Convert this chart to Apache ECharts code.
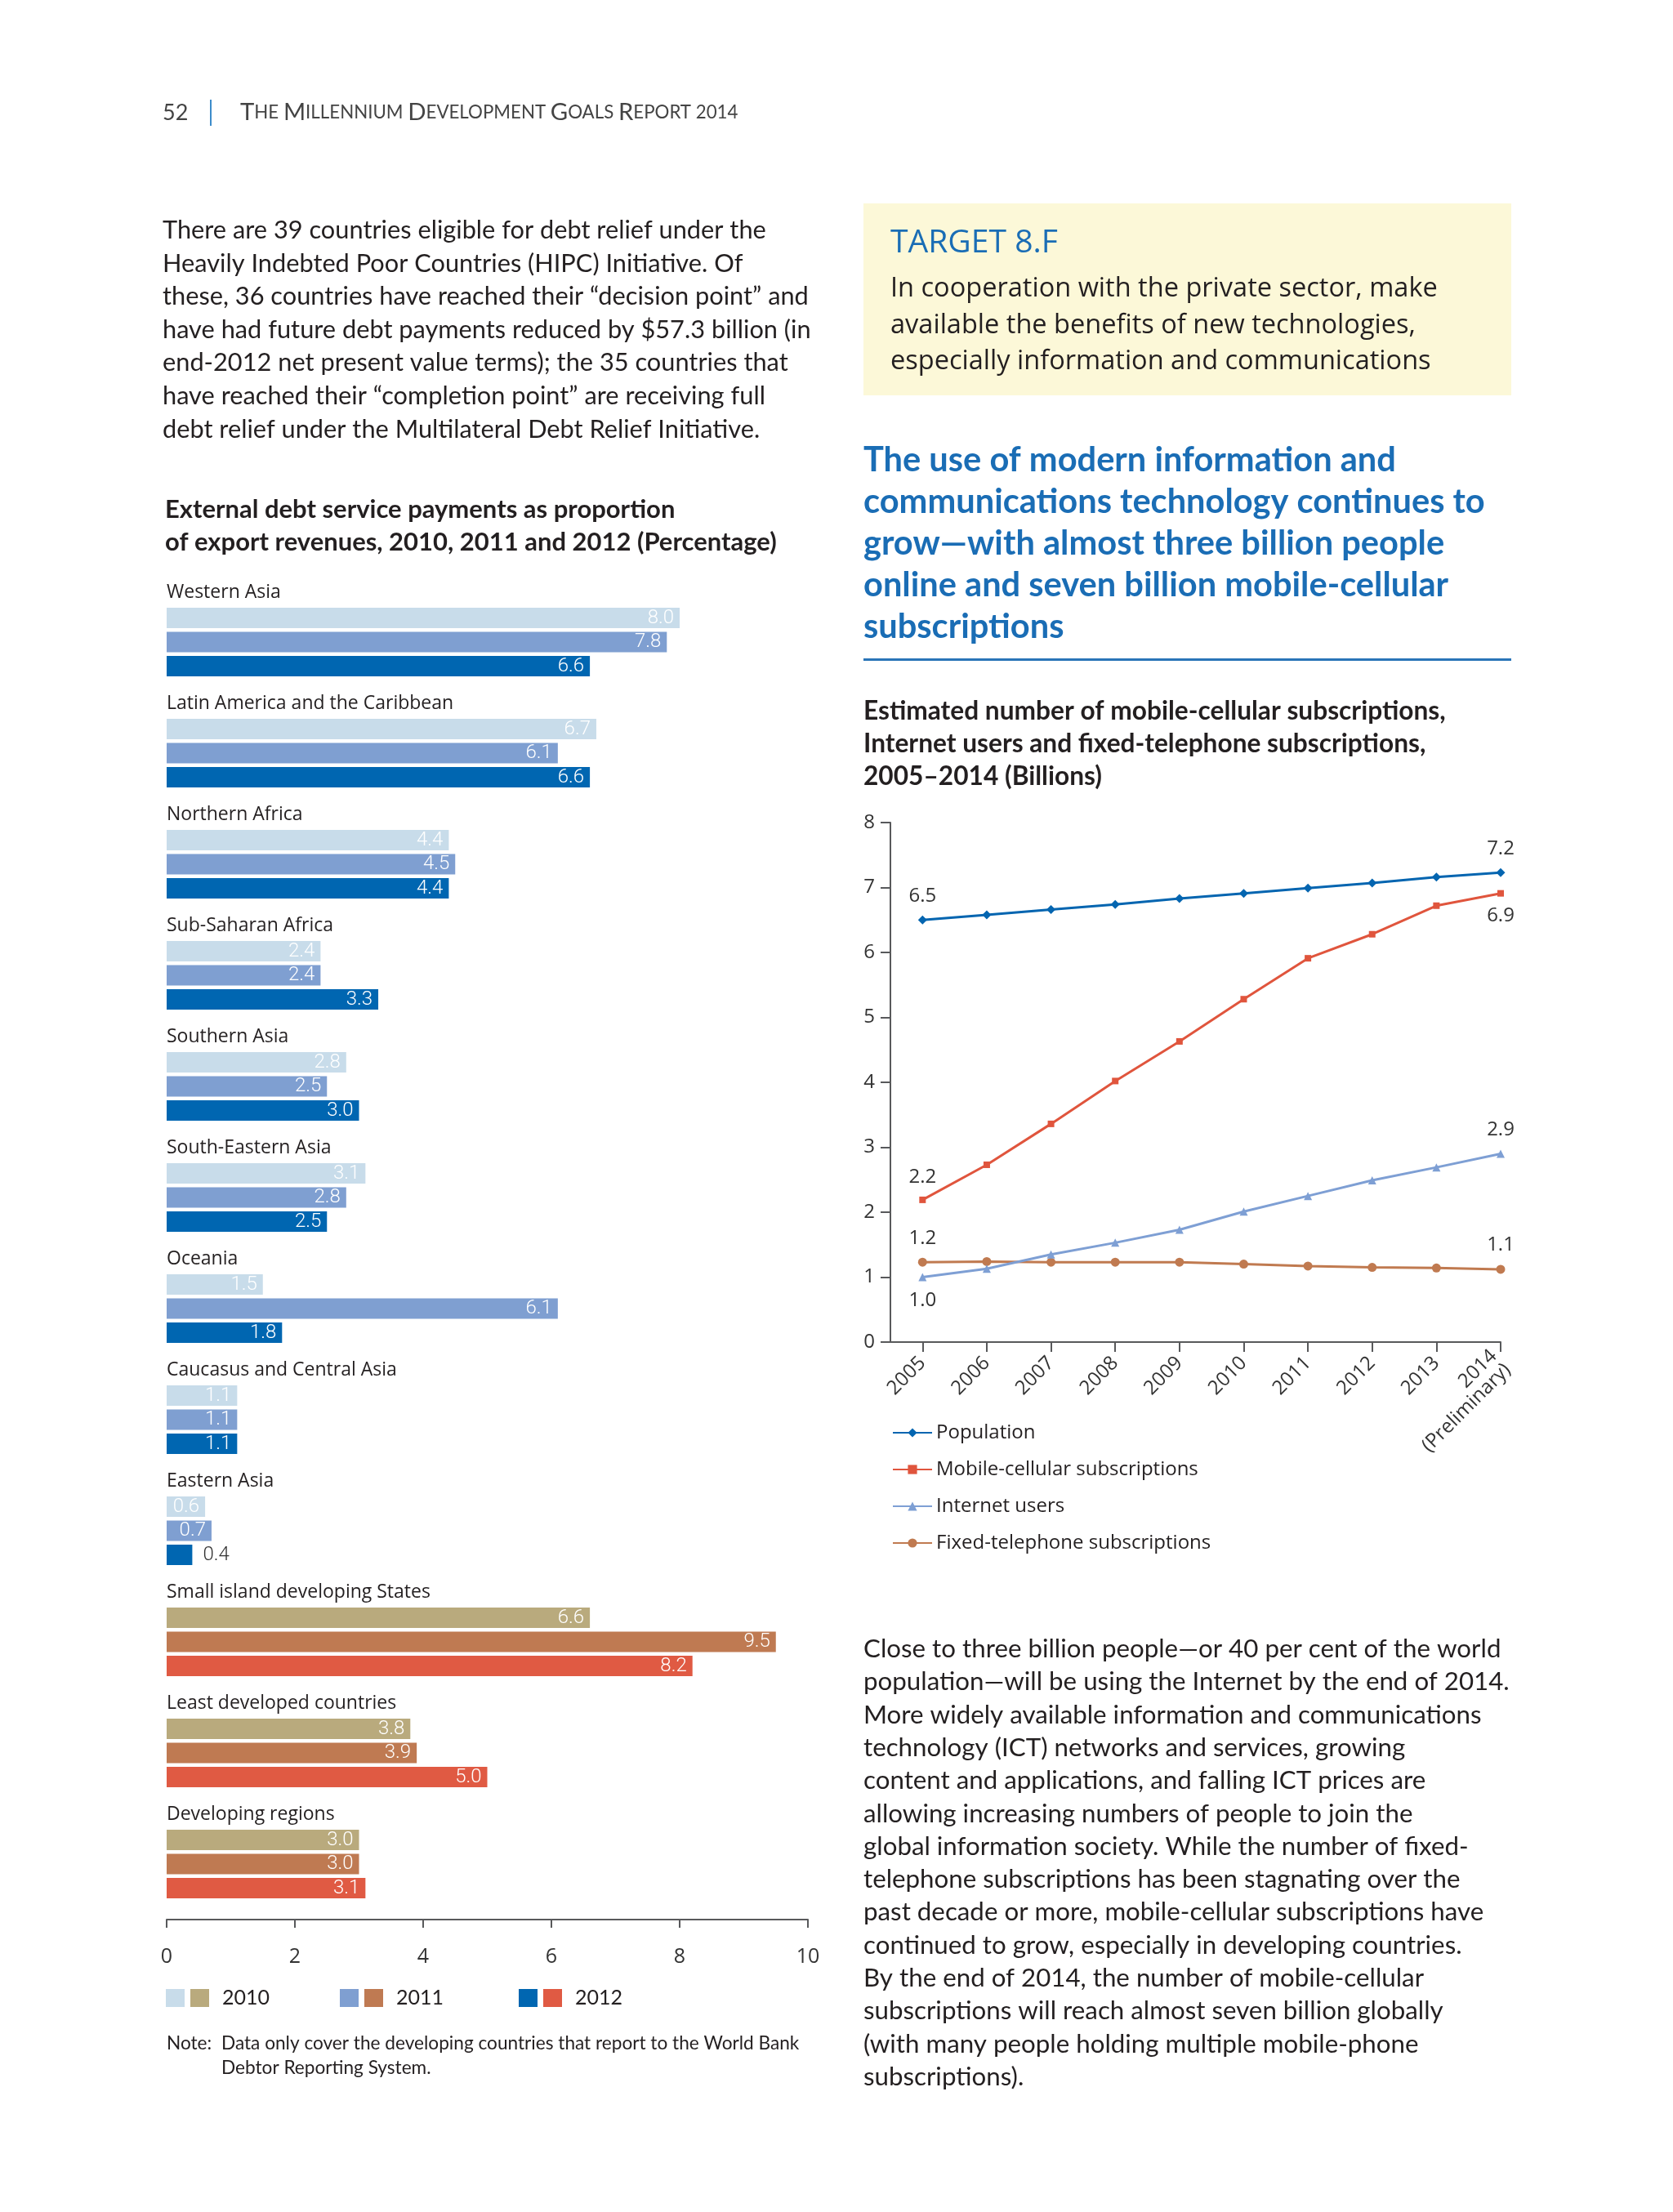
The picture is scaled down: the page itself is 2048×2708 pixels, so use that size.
<!DOCTYPE html>
<html><head><meta charset="utf-8">
<script src="https://cdn.jsdelivr.net/npm/echarts@6/dist/echarts.min.js"></script>
<style>html,body{margin:0;padding:0;background:#fff}#c{width:2048px;height:2708px}</style>
</head><body><div id="c"></div>
<script>
// ---------- DATA ----------
const regions = ['Western Asia','Latin America and the Caribbean','Northern Africa','Sub-Saharan Africa','Southern Asia','South-Eastern Asia','Oceania','Caucasus and Central Asia','Eastern Asia','Small island developing States','Least developed countries','Developing regions'];
const debt2010 = [8.0, 6.7, 4.4, 2.4, 2.8, 3.1, 1.5, 1.1, 0.6, 6.6, 3.8, 3.0];
const debt2011 = [7.8, 6.1, 4.5, 2.4, 2.5, 2.8, 6.1, 1.1, 0.7, 9.5, 3.9, 3.0];
const debt2012 = [6.6, 6.6, 4.4, 3.3, 3.0, 2.5, 1.8, 1.1, 0.4, 8.2, 5.0, 3.1];
const debtYears = ['2010','2011','2012'];
const debtTicks = [0, 2, 4, 6, 8, 10];

const years = [2005, 2006, 2007, 2008, 2009, 2010, 2011, 2012, 2013, 2014];
const population = [6.50, 6.58, 6.66, 6.74, 6.83, 6.91, 6.99, 7.07, 7.16, 7.23];
const mobile     = [2.19, 2.73, 3.36, 4.02, 4.63, 5.28, 5.91, 6.28, 6.72, 6.91];
const internet   = [1.00, 1.13, 1.35, 1.53, 1.73, 2.01, 2.25, 2.49, 2.69, 2.90];
const fixedTel   = [1.23, 1.24, 1.23, 1.23, 1.23, 1.20, 1.17, 1.15, 1.14, 1.12];
const lineNames = ['Population','Mobile-cellular subscriptions','Internet users','Fixed-telephone subscriptions'];
const lineTicks = [0,1,2,3,4,5,6,7,8];

// ---------- TEXT ----------
const header = 'The Millennium Development Goals Report 2014';
const leftPara = [
 'There are 39 countries eligible for debt relief under the',
 'Heavily Indebted Poor Countries (HIPC) Initiative. Of',
 'these, 36 countries have reached their \u201cdecision point\u201d and',
 'have had future debt payments reduced by $57.3 billion (in',
 'end-2012 net present value terms); the 35 countries that',
 'have reached their \u201ccompletion point\u201d are receiving full',
 'debt relief under the Multilateral Debt Relief Initiative.'];
const barTitle = ['External debt service payments as proportion','of export revenues, 2010, 2011 and 2012 (Percentage)'];
const boxTitle = 'TARGET 8.F';
const boxLines = ['In cooperation with the private sector, make','available the benefits of new technologies,','especially information and communications'];
const headline = ['The use of modern information and','communications technology continues to','grow\u2014with almost three billion people','online and seven billion mobile-cellular','subscriptions'];
const lineTitle = ['Estimated number of mobile-cellular subscriptions,','Internet users and fixed-telephone subscriptions,','2005\u20132014 (Billions)'];
const rightPara = [
 'Close to three billion people\u2014or 40 per cent of the world',
 'population\u2014will be using the Internet by the end of 2014.',
 'More widely available information and communications',
 'technology (ICT) networks and services, growing',
 'content and applications, and falling ICT prices are',
 'allowing increasing numbers of people to join the',
 'global information society. While the number of fixed-',
 'telephone subscriptions has been stagnating over the',
 'past decade or more, mobile-cellular subscriptions have',
 'continued to grow, especially in developing countries.',
 'By the end of 2014, the number of mobile-cellular',
 'subscriptions will reach almost seven billion globally',
 '(with many people holding multiple mobile-phone',
 'subscriptions).'];
const noteLabel = 'Note:';
const noteLines = ['Data only cover the developing countries that report to the World Bank','Debtor Reporting System.'];

// ---------- STYLE / LAYOUT ----------
const INK = '#231f20';
const BLUE = '#1a6db5';
const blueCols = ['#c8dcea', '#7f9fd1', '#0066b1'];
const earthCols = ['#b9aa7d', '#bf7a52', '#e05a43'];
const earthFrom = 9;
const lineStyles = [
 {color:'#0465b0', symbol:'diamond', size:11, pos:['top','top'], z:4},
 {color:'#e0553d', symbol:'rect', size:8, pos:['top','bottom'], z:3},
 {color:'#7e9fd4', symbol:'triangle', size:10, pos:['bottom','top'], z:3},
 {color:'#c07a50', symbol:'circle', size:11, pos:['top','top'], z:2}
];

const mctx = document.createElement('canvas').getContext('2d');
function fit(text, weight, family, target) {
  mctx.font = weight + ' 40px ' + family;
  return 40 * target / mctx.measureText(text).width;
}
function txt(x, y, text, size, o) {
  o = o || {};
  return {type:'text', x:x, y:y, silent:true, z:10, style:{
    text:text, fontSize:size, fontFamily:o.family||'Lato', fontWeight:o.weight||'normal',
    fill:o.fill||INK, textAlign:o.align||'left', textVerticalAlign:'middle', verticalAlign:'middle'}};
}
const G = [];
function para(lines, x, y0, lh, size, o) { lines.forEach((l,i)=>G.push(txt(x, y0+i*lh, l, size, o))); }

// header (small caps)
const hdrRich = header.split(' ').map(w => {
  if (/^\d/.test(w)) return '{s|' + w + '}';
  return '{b|' + w[0].toUpperCase() + '}{s|' + w.slice(1).toUpperCase() + '}';
}).join('{s| }');
G.push(txt(199, 138, '52', 27, {fill:'#444'}));
G.push({type:'rect', silent:true, shape:{x:257, y:122, width:2, height:32}, style:{fill:'#3d8ccb'}});
G.push({type:'text', x:294, y:138, silent:true, style:{text:hdrRich, textVerticalAlign:'middle', verticalAlign:'middle', fill:'#444',
  rich:{b:{fontSize:29.3, fontFamily:'Lato', fill:'#444'}, s:{fontSize:22.3, fontFamily:'Lato', fill:'#444'}}}});

para(leftPara, 199, 282, 40.6, fit(leftPara[2], 'normal', 'Lato', 791));
para(barTitle, 202, 624, 40, fit(barTitle[1], 'bold', 'Lato', 749), {weight:'bold'});

G.push({type:'rect', silent:true, z:0, shape:{x:1057, y:249, width:793, height:235}, style:{fill:'#fcf8d8'}});
G.push(txt(1090, 298, boxTitle, fit(boxTitle, 'normal', '"Open Sans"', 205), {family:'Open Sans', fill:BLUE}));
para(boxLines, 1090, 354, 44.5, fit(boxLines[0], 'normal', '"Open Sans"', 670), {family:'Open Sans'});
para(headline, 1057, 564, 51, fit(headline[1], 'bold', 'Lato', 761), {weight:'bold', fill:BLUE});
G.push({type:'rect', silent:true, shape:{x:1057, y:806, width:793, height:3}, style:{fill:'#2a75b8'}});
para(lineTitle, 1057, 871, 40, fit(lineTitle[0], 'bold', 'Lato', 713), {weight:'bold'});
para(rightPara, 1057, 2019, 40.3, fit(rightPara[1], 'normal', 'Lato', 791));

const noteSize = fit(noteLines[0], 'normal', 'Lato', 708);
G.push(txt(204, 2502, noteLabel, noteSize));
para(noteLines, 271, 2502, 29.5, noteSize);

// bar legend
const legX = [203, 416, 635];
debtYears.forEach((y, i) => {
  G.push({type:'rect', silent:true, shape:{x:legX[i], y:2435, width:23, height:22}, style:{fill:blueCols[i]}});
  G.push({type:'rect', silent:true, shape:{x:legX[i]+30, y:2435, width:23, height:22}, style:{fill:earthCols[i]}});
  G.push(txt(legX[i]+69, 2446, y, 25));
});

// ---------- CHART ----------
const chart = echarts.init(document.getElementById('c'), null, {renderer:'canvas', width:2048, height:2708});
const axisCol = '#58595b';
const barSeries = [debt2010, debt2011, debt2012].map((vals, s) => ({
  type:'bar', name:debtYears[s], xAxisIndex:0, yAxisIndex:0, barWidth:25, barGap:'18%', silent:true,
  label:{show:true, position:'insideRight', distance:7, color:'#fff', fontSize:24, fontFamily:'Roboto', fontWeight:300,
    formatter: p => p.value.toFixed(1)},
  data: vals.map((v, i) => {
    const d = {value:v, itemStyle:{color:(i >= earthFrom ? earthCols : blueCols)[s]}};
    if (v < 0.5) d.label = {show:true, position:'right', distance:13, color:'#333'};
    return d;
  })
}));
const lineSeries = [population, mobile, internet, fixedTel].map((vals, s) => {
  const st = lineStyles[s];
  return {
    type:'line', name:lineNames[s], xAxisIndex:1, yAxisIndex:1, z:st.z, silent:true,
    symbol:st.symbol, symbolSize:st.size, showAllSymbol:true,
    lineStyle:{color:st.color, width:3}, itemStyle:{color:st.color},
    label:{show:false, fontSize:24, fontFamily:'Open Sans', color:'#333', distance:12, formatter: p => p.value[1].toFixed(1)},
    data: vals.map((v, i) => {
      const d = {value:[years[i], v]};
      if (i === 0) d.label = {show:true, position:st.pos[0]};
      if (i === vals.length - 1) d.label = {show:true, position:st.pos[1]};
      return d;
    })
  };
});

chart.setOption({
  animation:false,
  backgroundColor:'#ffffff',
  textStyle:{fontFamily:'Open Sans'},
  grid:[
    {left:204, top:718, width:785, height:1632, containLabel:false},
    {left:1090, top:1007, width:747, height:636, containLabel:false}
  ],
  xAxis:[
    {type:'value', gridIndex:0, min:debtTicks[0], max:debtTicks[debtTicks.length-1], interval:2,
     axisLine:{show:true, lineStyle:{color:axisCol, width:2}},
     axisTick:{show:true, length:10, lineStyle:{color:axisCol, width:2}},
     axisLabel:{fontSize:25, color:'#333', margin:33, fontFamily:'Open Sans'}, splitLine:{show:false}},
    {type:'value', gridIndex:1, min:2004.5, max:years[years.length-1],
     axisLine:{show:true, lineStyle:{color:axisCol, width:2}},
     axisTick:{show:true, length:12, customValues:years, lineStyle:{color:axisCol, width:2}},
     axisLabel:{customValues:years, rotate:45, fontSize:24, color:'#333', margin:22, fontFamily:'Open Sans',
       formatter: v => v === 2014 ? '2014\n(Preliminary)' : String(v)},
     splitLine:{show:false}}
  ],
  yAxis:[
    {type:'category', gridIndex:0, data:regions, inverse:true,
     axisLine:{show:false}, axisTick:{show:false},
     axisLabel:{inside:true, margin:0, interval:0, align:'left', verticalAlign:'middle',
       formatter: v => '{n|' + v + '}\n{s| }',
       rich:{n:{fontSize:23, lineHeight:30, color:INK, fontFamily:'Open Sans'},
             s:{fontSize:10, lineHeight:122}}}},
    {type:'value', gridIndex:1, min:lineTicks[0], max:lineTicks[lineTicks.length-1], interval:1,
     axisLine:{show:true, lineStyle:{color:axisCol, width:2}},
     axisTick:{show:true, length:12, lineStyle:{color:axisCol, width:2}},
     axisLabel:{fontSize:24, color:'#333', margin:19, fontFamily:'Open Sans'}, splitLine:{show:false}}
  ],
  legend:{orient:'vertical', left:1087, top:1737, itemWidth:48, itemHeight:14, itemGap:21, selectedMode:false,
    data:lineNames, textStyle:{fontSize:24, fontFamily:'Open Sans', color:INK}},
  series: barSeries.concat(lineSeries),
  graphic:{elements:G}
});
</script></body></html>
